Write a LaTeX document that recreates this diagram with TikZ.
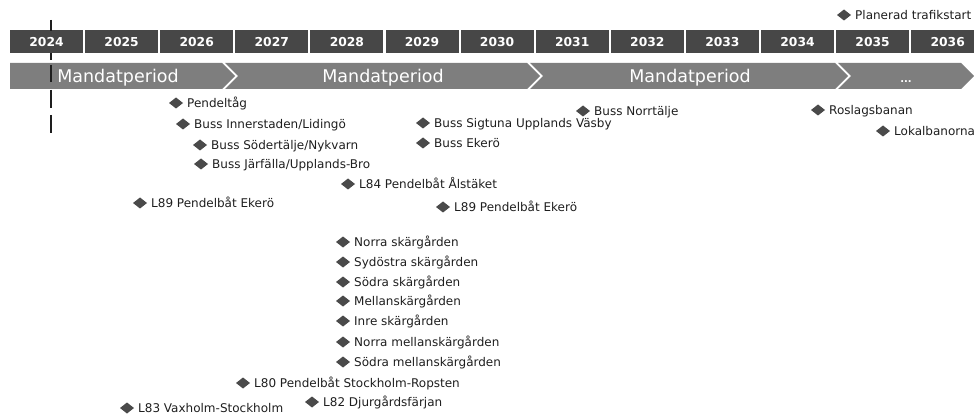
\documentclass[tikz,border=0pt]{standalone}
\usepackage{fontspec}
\setmainfont{DejaVu Sans}
\usetikzlibrary{shapes.geometric}

\definecolor{yeargray}{HTML}{474747}
\definecolor{bargray}{HTML}{7E7E7E}
\definecolor{markgray}{HTML}{4A4A4A}
\definecolor{txtgray}{HTML}{1E1E1E}

\tikzset{
  year/.style={fill=yeargray, text=white, minimum width=73pt, minimum height=23pt,
    inner sep=0pt, text height=11pt, text depth=0pt, font=\bfseries\fontsize{12.3}{14}\selectfont},
  period/.style={text=white, inner sep=0pt, anchor=base, font=\fontsize{17.5}{20}\selectfont},
  ms/.style={diamond, fill=markgray, minimum width=14pt, minimum height=11pt,
    inner sep=0pt, outer sep=0pt},
  mslabel/.style={text=txtgray, inner sep=0pt, text height=10pt, text depth=1pt,
    xshift=4pt, font=\fontsize{12}{14}\selectfont},
}

\begin{document}
\begin{tikzpicture}[x=1pt,y=-1pt]
  \useasboundingbox (0,0) rectangle (974,414);

  % Years.
  \node[year] (y2024) at (46.5,41.5) {};
  \node[year] (y2025) at (121.6,41.5) {2025};
  \node[year] (y2026) at (196.7,41.5) {2026};
  \node[year] (y2027) at (271.8,41.5) {2027};
  \node[year] (y2028) at (346.9,41.5) {2028};
  \node[year] (y2029) at (422.0,41.5) {2029};
  \node[year] (y2030) at (497.1,41.5) {2030};
  \node[year] (y2031) at (572.2,41.5) {2031};
  \node[year] (y2032) at (647.3,41.5) {2032};
  \node[year] (y2033) at (722.4,41.5) {2033};
  \node[year] (y2034) at (797.5,41.5) {2034};
  \node[year] (y2035) at (872.6,41.5) {2035};
  \node[year] (y2036) at (947.7,41.5) {2036};

  % Periods.
  \fill[bargray] (10,63) -- (222,63) -- (235,76) -- (222,89) -- (10,89) -- cycle;
  \fill[bargray] (225,63) -- (527,63) -- (540,76) -- (527,89) -- (225,89) -- (238,76) -- cycle;
  \fill[bargray] (530,63) -- (835,63) -- (848,76) -- (835,89) -- (530,89) -- (543,76) -- cycle;
  \fill[bargray] (838,63) -- (961,63) -- (974,76) -- (961,89) -- (838,89) -- (851,76) -- cycle;

  % Today.
  \coordinate (nowtop) at (51,20);
  \coordinate (nowbot) at (51,133);
  \draw[txtgray, line width=2pt,
    dash pattern=on 11pt off 22pt on 7pt off 5pt on 17pt off 8pt on 18pt off 7pt on 18pt]
    (nowtop) -- (nowbot);
  \node[year, fill=none] at (y2024) {2024};

  \node[period] (p1) at (118,83) {Mandatperiod};
  \node[period] (p2) at (383,83) {Mandatperiod};
  \node[period] (p3) at (690,83) {Mandatperiod};
  \node[period, font=\bfseries\fontsize{10}{12}\selectfont] (p4) at (906,83) {...};

  % Milestones.
  \node[ms, label={[mslabel]right:Planerad trafikstart}] (plan) at (844,15) {};
  \node[ms, label={[mslabel]right:Pendeltåg}] (pendel) at (176,103) {};
  \node[ms, label={[mslabel]right:Buss Innerstaden/Lidingö}] (inner) at (183,124) {};
  \node[ms, label={[mslabel]right:Buss Södertälje/Nykvarn}] (soder) at (200,145) {};
  \node[ms, label={[mslabel]right:Buss Järfälla/Upplands-Bro}] (jarf) at (201,164) {};
  \node[ms, label={[mslabel]right:L84 Pendelbåt Ålstäket}] (l84) at (348,184) {};
  \node[ms, label={[mslabel]right:L89 Pendelbåt Ekerö}] (l89a) at (140,203) {};
  \node[ms, label={[mslabel]right:Buss Sigtuna Upplands Väsby}] (sigt) at (423,123) {};
  \node[ms, label={[mslabel]right:Buss Ekerö}] (ekero) at (423,143) {};
  \node[ms, label={[mslabel]right:L89 Pendelbåt Ekerö}] (l89b) at (443,207) {};
  \node[ms, label={[mslabel]right:Buss Norrtälje}] (norrt) at (583,111) {};
  \node[ms, label={[mslabel]right:Roslagsbanan}] (roslag) at (818,110) {};
  \node[ms, label={[mslabel]right:Lokalbanorna}] (lokal) at (883,131) {};
  \node[ms, label={[mslabel]right:Norra skärgården}] (nsk) at (343,242) {};
  \node[ms, label={[mslabel]right:Sydöstra skärgården}] (ssk) at (343,262) {};
  \node[ms, label={[mslabel]right:Södra skärgården}] (sosk) at (343,282) {};
  \node[ms, label={[mslabel]right:Mellanskärgården}] (msk) at (343,301) {};
  \node[ms, label={[mslabel]right:Inre skärgården}] (isk) at (343,321) {};
  \node[ms, label={[mslabel]right:Norra mellanskärgården}] (nmsk) at (343,342) {};
  \node[ms, label={[mslabel]right:Södra mellanskärgården}] (smsk) at (343,362) {};
  \node[ms, label={[mslabel]right:L80 Pendelbåt Stockholm-Ropsten}] (l80) at (243,383) {};
  \node[ms, label={[mslabel]right:L82 Djurgårdsfärjan}] (l82) at (312,402) {};
  \node[ms, label={[mslabel]right:L83 Vaxholm-Stockholm}] (l83) at (127,408) {};
\end{tikzpicture}
\end{document}
